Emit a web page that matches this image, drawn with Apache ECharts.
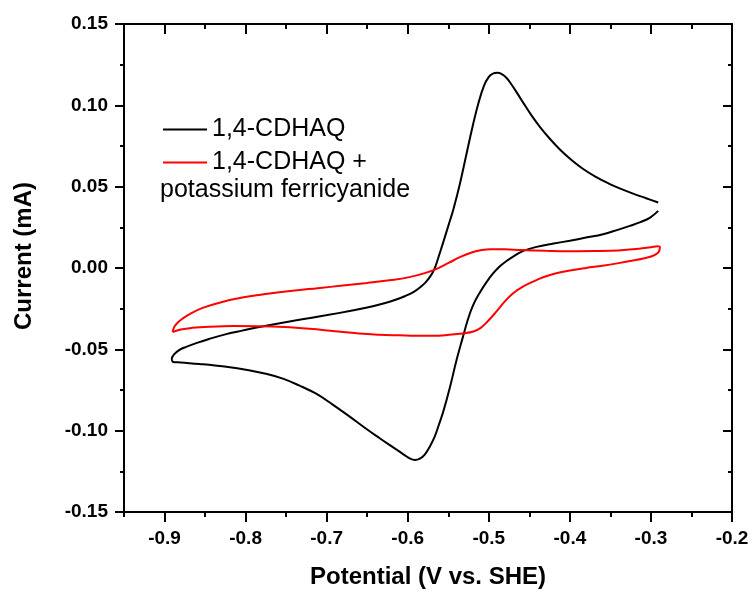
<!DOCTYPE html>
<html>
<head>
<meta charset="utf-8">
<script src="https://cdn.jsdelivr.net/npm/echarts@6/dist/echarts.min.js"></script>
<style>
  html, body { margin: 0; padding: 0; background: #fff; }
  #chart { width: 754px; height: 594px; }
</style>
</head>
<body>
<div id="chart"></div>
<script>
// Cyclic voltammograms: potential (V vs. SHE) against current (mA)

// 1,4-CDHAQ: cathodic sweep from the positive end, then anodic sweep back
const cdhaqPotential = [
  -0.291, -0.301, -0.313, -0.326, -0.342, -0.359, -0.380, -0.400, -0.420, -0.441,
  -0.450, -0.460, -0.470, -0.479, -0.487, -0.495, -0.503, -0.511, -0.5196, -0.526,
  -0.532, -0.540, -0.548, -0.556, -0.562, -0.567, -0.573, -0.579, -0.585, -0.591,
  -0.597, -0.604, -0.611, -0.623, -0.635, -0.653, -0.672, -0.693, -0.713, -0.734,
  -0.754, -0.775, -0.796, -0.826, -0.857, -0.880, -0.890,
  -0.891, -0.888, -0.882, -0.874, -0.860, -0.845, -0.825, -0.804, -0.783, -0.763,
  -0.732, -0.701, -0.670, -0.650, -0.630, -0.615, -0.603, -0.593, -0.585, -0.578,
  -0.572, -0.567, -0.5625, -0.558, -0.553, -0.548, -0.544, -0.536, -0.528, -0.520,
  -0.513, -0.506, -0.500, -0.495, -0.4895, -0.484, -0.478, -0.472, -0.465, -0.457,
  -0.448, -0.437, -0.425, -0.412, -0.398, -0.384, -0.368, -0.352, -0.337, -0.322,
  -0.306, -0.291
];
const cdhaqCurrent = [
  0.0351, 0.0310, 0.0282, 0.0259, 0.0233, 0.0208, 0.0187, 0.0168, 0.0150, 0.0130,
  0.0117, 0.0099, 0.0070, 0.0040, 0.0008, -0.0035, -0.0088, -0.0150, -0.0231, -0.0320,
  -0.0425, -0.0570, -0.0735, -0.0880, -0.0970, -0.1040, -0.1100, -0.1147, -0.1172, -0.1180,
  -0.1172, -0.1150, -0.1126, -0.1086, -0.1045, -0.0982, -0.0912, -0.0838, -0.0773, -0.0722,
  -0.0680, -0.0650, -0.0628, -0.0606, -0.0590, -0.0581, -0.0576,
  -0.0558, -0.0530, -0.0505, -0.0486, -0.0460, -0.0436, -0.0408, -0.0385, -0.0363, -0.0344,
  -0.0317, -0.0291, -0.0263, -0.0243, -0.0218, -0.0195, -0.0172, -0.0148, -0.0120, -0.0088,
  -0.0050, -0.0005, 0.0060, 0.0130, 0.0210, 0.0290, 0.0355, 0.0510, 0.0690, 0.0870,
  0.1010, 0.1120, 0.1175, 0.1195, 0.1200, 0.1192, 0.1168, 0.1128, 0.1075, 0.1012,
  0.0943, 0.0868, 0.0796, 0.0727, 0.0664, 0.0610, 0.0560, 0.0519, 0.0486, 0.0457,
  0.0429, 0.0403
];

// 1,4-CDHAQ + potassium ferricyanide: upper sweep left to right, lower sweep back
const mixPotential = [
  -0.890, -0.888, -0.884, -0.878, -0.868, -0.853, -0.830, -0.804, -0.773, -0.742,
  -0.711, -0.680, -0.650, -0.620, -0.598, -0.580, -0.565, -0.549, -0.535, -0.522,
  -0.510, -0.498, -0.480, -0.460, -0.430, -0.400, -0.370, -0.340, -0.315, -0.300,
  -0.292, -0.289,
  -0.2895, -0.292, -0.298, -0.308, -0.322, -0.340, -0.360, -0.380, -0.400, -0.418,
  -0.433, -0.446, -0.458, -0.470, -0.481, -0.491, -0.501, -0.510, -0.519, -0.530,
  -0.549, -0.569, -0.590, -0.610, -0.635, -0.660, -0.690, -0.721, -0.752, -0.783,
  -0.815, -0.845, -0.866, -0.880, -0.890
];
const mixCurrent = [
  -0.0394, -0.0362, -0.0337, -0.0312, -0.0280, -0.0245, -0.0210, -0.0182, -0.0159, -0.0140,
  -0.0124, -0.0108, -0.0092, -0.0074, -0.0056, -0.0033, -0.0007, 0.0033, 0.0068, 0.0094,
  0.0109, 0.0116, 0.0115, 0.0111, 0.0106, 0.0103, 0.0104, 0.0108, 0.0118, 0.0127,
  0.0134, 0.0130,
  0.0110, 0.0090, 0.0074, 0.0060, 0.0046, 0.0030, 0.0014, 0.0000, -0.0016, -0.0034,
  -0.0057, -0.0085, -0.0115, -0.0155, -0.0210, -0.0270, -0.0326, -0.0368, -0.0390, -0.0401,
  -0.0411, -0.0417, -0.0417, -0.0414, -0.0410, -0.0403, -0.0389, -0.0374, -0.0363, -0.0358,
  -0.0357, -0.0361, -0.0368, -0.0378, -0.0394
];

// Axis ticks
const xMajorTicks = [-0.9, -0.8, -0.7, -0.6, -0.5, -0.4, -0.3, -0.2];
const xMinorTicks = [-0.95, -0.85, -0.75, -0.65, -0.55, -0.45, -0.35, -0.25];

const seriesNames = ['1,4-CDHAQ', '1,4-CDHAQ + potassium ferricyanide'];

const zip = (xs, ys) => xs.map((x, i) => [x, ys[i]]);

const chart = echarts.init(document.getElementById('chart'), null, { renderer: 'canvas' });

const X_MIN = -0.95, X_MAX = -0.2;
const FONT = 'Liberation Sans, Arial, sans-serif';
const lineStyleAxis = { color: '#000', width: 2 };
const labelFont = { fontFamily: FONT, fontWeight: 'bold', fontSize: 19, color: '#000' };

function xAxisDef(position, ticks, len, inside, withLine, withLabels) {
  return {
    type: 'value', position: position, min: X_MIN, max: X_MAX,
    axisLine: { show: withLine, onZero: false, lineStyle: lineStyleAxis },
    axisTick: { show: true, customValues: ticks, length: len, inside: inside, lineStyle: { color: '#000', width: 2 } },
    axisLabel: withLabels ? Object.assign({ show: true, customValues: ticks, margin: 17,
      formatter: v => v.toFixed(1) }, labelFont) : { show: false },
    splitLine: { show: false }
  };
}

const option = {
  backgroundColor: '#fff',
  animation: false,
  grid: { left: 124, right: 22, top: 24, bottom: 80, containLabel: false },
  xAxis: [
    Object.assign(xAxisDef('bottom', xMajorTicks, 10, false, true, true), {
      name: 'Potential (V vs. SHE)', nameLocation: 'middle', nameGap: 53,
      nameTextStyle: { fontFamily: FONT, fontWeight: 'bold', fontSize: 24, color: '#000' }
    }),
    xAxisDef('bottom', xMinorTicks, 5, false, false, false),
    xAxisDef('top', xMajorTicks, 10, true, true, false),
    xAxisDef('top', xMinorTicks, 5, true, false, false)
  ],
  yAxis: [
    {
      type: 'value', position: 'left', min: -0.15, max: 0.15, interval: 0.05,
      axisLine: { show: true, onZero: false, lineStyle: lineStyleAxis },
      axisTick: { show: true, length: 9, inside: false, lineStyle: { color: '#000', width: 2 } },
      minorTick: { show: true, splitNumber: 2, length: 4, lineStyle: { color: '#000', width: 2 } },
      axisLabel: Object.assign({ margin: 16, formatter: v => v.toFixed(2) }, labelFont),
      splitLine: { show: false }, minorSplitLine: { show: false }
    },
    {
      type: 'value', position: 'right', min: -0.15, max: 0.15, interval: 0.05,
      axisLine: { show: true, onZero: false, lineStyle: lineStyleAxis },
      axisTick: { show: true, length: 9, inside: true, lineStyle: { color: '#000', width: 2 } },
      minorTick: { show: true, splitNumber: 2, length: 4, lineStyle: { color: '#000', width: 2 } },
      axisLabel: { show: false },
      splitLine: { show: false }, minorSplitLine: { show: false }
    }
  ],
  legend: {
    orient: 'vertical', left: 158, top: 112,
    itemWidth: 44, itemHeight: 14, itemGap: 8,
    icon: 'path://M0,6 L44,6 L44,8 L0,8 Z',
    data: seriesNames,
    formatter: name => (name === seriesNames[1] ? '1,4-CDHAQ +' : name),
    textStyle: { fontFamily: FONT, fontSize: 25, lineHeight: 25, color: '#000' }
  },
  graphic: [
    {
      type: 'text', left: 160, top: 178,
      style: { text: 'potassium ferricyanide', font: '25px "Liberation Sans", Arial, sans-serif', fill: '#000' }
    },
    {
      type: 'text', x: 24, y: 256, rotation: Math.PI / 2,
      style: { text: 'Current (mA)', font: 'bold 24px "Liberation Sans", Arial, sans-serif', fill: '#000',
               align: 'center', verticalAlign: 'middle' }
    }
  ],
  series: [
    {
      name: seriesNames[0], type: 'line', xAxisIndex: 0, yAxisIndex: 0,
      data: zip(cdhaqPotential, cdhaqCurrent),
      showSymbol: false, symbol: 'none', smooth: 0.4,
      lineStyle: { color: '#000', width: 2 }, itemStyle: { color: '#000' }
    },
    {
      name: seriesNames[1], type: 'line', xAxisIndex: 0, yAxisIndex: 0,
      data: zip(mixPotential, mixCurrent),
      showSymbol: false, symbol: 'none', smooth: 0.4,
      lineStyle: { color: '#ff0000', width: 2 }, itemStyle: { color: '#ff0000' }
    }
  ]
};

chart.setOption(option);
</script>
</body>
</html>
